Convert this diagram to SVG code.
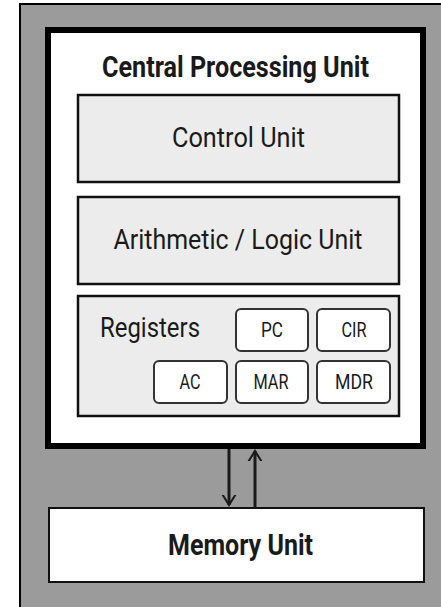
<svg xmlns="http://www.w3.org/2000/svg" width="441" height="607" viewBox="0 0 441 607">
  <style>
    .t { font-family: Roboto, "Liberation Sans", sans-serif; fill: #1a1a1a; }
    .b { font-weight: bold; }
    .unit { fill: #ececec; stroke: #111; stroke-width: 2.5; }
    .reg { fill: #ffffff; stroke: #333; stroke-width: 2; }
    .conn { stroke: #1a1a1a; stroke-width: 3; fill: none; }
  </style>
  <defs>
    <marker id="chev" markerUnits="userSpaceOnUse" markerWidth="20" markerHeight="20" viewBox="-10 -10 20 20" refX="0" refY="0" orient="auto">
      <path d="M-12,-7.5 L0,0 L-12,7.5" fill="none" stroke="#1a1a1a" stroke-width="2"/>
    </marker>
  </defs>

  <g id="background">
    <rect x="20" y="4" width="440" height="620" fill="#9b9b9b" stroke="#000" stroke-width="2"/>
  </g>

  <g id="cpu">
    <rect x="48" y="30" width="375" height="416" fill="#ffffff" stroke="#000" stroke-width="6"/>
    <text class="t b" x="235.5" y="77" font-size="29" text-anchor="middle" textLength="267" lengthAdjust="spacingAndGlyphs">Central Processing Unit</text>
  </g>

  <g id="control-unit">
    <rect class="unit" x="78" y="95" width="321" height="87"/>
    <text class="t" x="238.5" y="147" font-size="27" text-anchor="middle" textLength="133" lengthAdjust="spacingAndGlyphs">Control Unit</text>
  </g>

  <g id="alu">
    <rect class="unit" x="78" y="197" width="321" height="87"/>
    <text class="t" x="238" y="249" font-size="27" text-anchor="middle" textLength="249" lengthAdjust="spacingAndGlyphs">Arithmetic / Logic Unit</text>
  </g>

  <g id="registers">
    <rect class="unit" x="78" y="296" width="321" height="120"/>
    <text class="t" x="100" y="337" font-size="28" textLength="100" lengthAdjust="spacingAndGlyphs">Registers</text>
  </g>

  <g id="reg-pc">
    <rect class="reg" x="236" y="309" width="72" height="42" rx="5"/>
    <text class="t" x="272" y="337" font-size="20" text-anchor="middle" textLength="22" lengthAdjust="spacingAndGlyphs">PC</text>
  </g>
  <g id="reg-cir">
    <rect class="reg" x="317" y="309" width="73" height="42" rx="5"/>
    <text class="t" x="354" y="337" font-size="20" text-anchor="middle" textLength="25" lengthAdjust="spacingAndGlyphs">CIR</text>
  </g>
  <g id="reg-ac">
    <rect class="reg" x="154" y="361" width="73" height="42" rx="5"/>
    <text class="t" x="190" y="389" font-size="20" text-anchor="middle" textLength="21" lengthAdjust="spacingAndGlyphs">AC</text>
  </g>
  <g id="reg-mar">
    <rect class="reg" x="236" y="361" width="72" height="42" rx="5"/>
    <text class="t" x="271" y="389" font-size="20" text-anchor="middle" textLength="35" lengthAdjust="spacingAndGlyphs">MAR</text>
  </g>
  <g id="reg-mdr">
    <rect class="reg" x="317" y="361" width="73" height="42" rx="5"/>
    <text class="t" x="354" y="389" font-size="20" text-anchor="middle" textLength="38" lengthAdjust="spacingAndGlyphs">MDR</text>
  </g>

  <g id="memory-unit">
    <rect x="49" y="508" width="375" height="74" fill="#ffffff" stroke="#111" stroke-width="2"/>
    <text class="t b" x="240.5" y="555" font-size="29" text-anchor="middle" textLength="145" lengthAdjust="spacingAndGlyphs">Memory Unit</text>
  </g>

  <g id="connectors">
    <line class="conn" x1="229" y1="449" x2="229" y2="505" marker-end="url(#chev)"/>
    <line class="conn" x1="255" y1="508" x2="255" y2="451" marker-end="url(#chev)"/>
  </g>
</svg>
